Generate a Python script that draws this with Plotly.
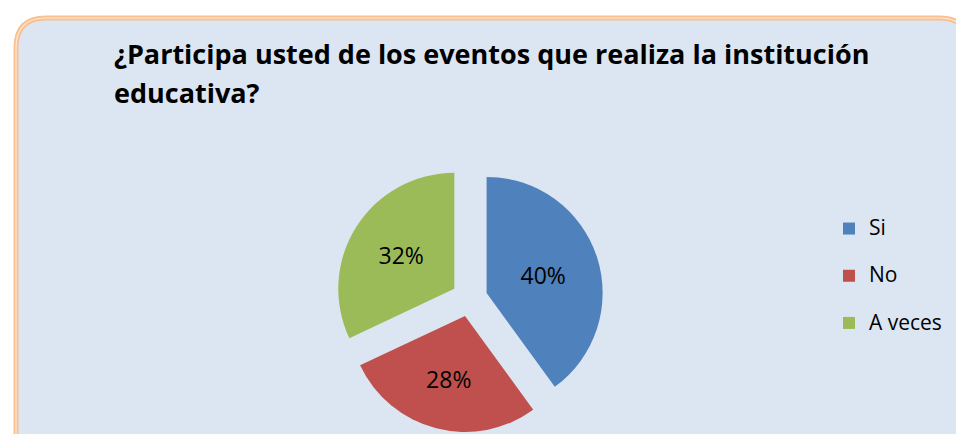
import plotly.graph_objects as go

W, H = 964, 434

categories = ["Si", "No", "A veces"]
values = [40, 28, 32]
colors = ["#4F81BD", "#C0504D", "#9BBB59"]
title_lines = ["¿Participa usted de los eventos que realiza la institución", "educativa?"]

FONT = "Open Sans"

def px(x):
    return x / W

def py(y):
    return 1 - y / H

# rounded card path (paper coords)
L, T, R, B, rad = 8, 10, 961, 470, 30
def card_path():
    pts = (
        f"M {px(L)},{py(T + rad)} "
        f"Q {px(L)},{py(T)} {px(L + rad)},{py(T)} "
        f"L {px(R - rad)},{py(T)} "
        f"Q {px(R)},{py(T)} {px(R)},{py(T + rad)} "
        f"L {px(R)},{py(B - rad)} "
        f"Q {px(R)},{py(B)} {px(R - rad)},{py(B)} "
        f"L {px(L + rad)},{py(B)} "
        f"Q {px(L)},{py(B)} {px(L)},{py(B - rad)} Z"
    )
    return pts

fig = go.Figure()
fig.add_trace(go.Pie(
    labels=[f"<span style='font-size:21px'>{c}</span><br> " for c in categories],
    values=values,
    marker=dict(colors=colors, line=dict(width=0)),
    sort=False,
    direction="clockwise",
    rotation=0,
    pull=[0.155, 0.155, 0.155],
    textinfo="percent",
    texttemplate="%{percent:.0%}",
    textposition="inside",
    insidetextorientation="horizontal",
    textfont=dict(family=FONT, size=23, color="black"),
    domain=dict(x=[px(327.5), px(595.5)], y=[py(424.5), py(156.5)]),
    hoverinfo="label+percent",
))

fig.update_layout(
    width=W, height=H,
    margin=dict(l=0, r=0, t=0, b=0),
    paper_bgcolor="white",
    showlegend=True,
    legend=dict(
        x=px(821), y=py(203), xanchor="left", yanchor="top",
        font=dict(family=FONT, size=17, color="black"),
        valign="top",
        bgcolor="rgba(0,0,0,0)",
    ),
    shapes=[
        dict(type="path", xref="paper", yref="paper", path=card_path(),
             fillcolor="#DCE6F2", line=dict(color="#FAC090", width=5), layer="below"),
        dict(type="path", xref="paper", yref="paper", path=card_path(),
             fillcolor="rgba(0,0,0,0)", line=dict(color="#FDEADA", width=1.2), layer="below"),
    ],
    annotations=[
        dict(text=f"<b>{title_lines[0]}</b>", x=px(104), y=py(46), xref="paper", yref="paper",
             xanchor="left", yanchor="middle", showarrow=False,
             font=dict(family=FONT, size=27, color="black")),
        dict(text=f"<b>{title_lines[1]}</b>", x=px(104), y=py(84), xref="paper", yref="paper",
             xanchor="left", yanchor="middle", showarrow=False,
             font=dict(family=FONT, size=27, color="black")),
    ],
)

fig.write_html("out.html")
